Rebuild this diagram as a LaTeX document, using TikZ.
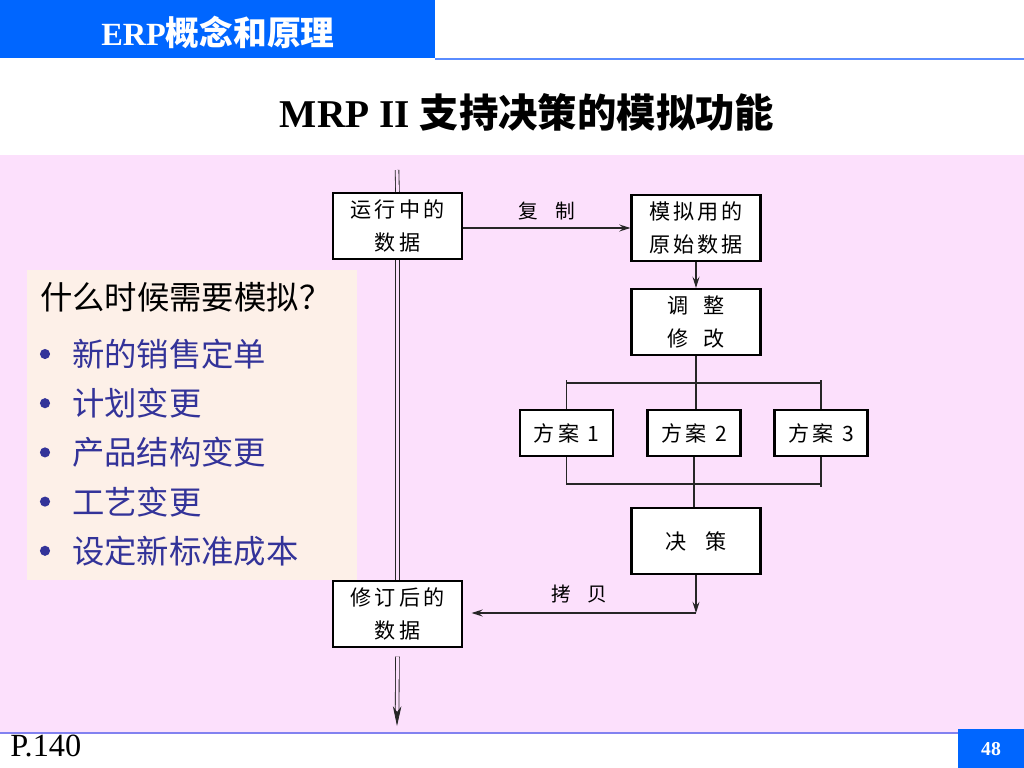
\documentclass[tikz,border=0pt]{standalone}
\usepackage{fontspec}
\setmainfont{Liberation Serif}
\newfontfamily\cjk{Noto Sans CJK SC}
\newfontfamily\boxcjk[LetterSpace=15]{Noto Sans CJK SC}
\usetikzlibrary{arrows.meta}
\definecolor{headblue}{RGB}{0,102,255}
\definecolor{lineblue}{RGB}{90,140,255}
\definecolor{footline}{RGB}{130,130,240}
\definecolor{pinkbg}{RGB}{252,224,252}
\definecolor{peach}{RGB}{253,240,232}
\definecolor{itemblue}{RGB}{51,51,153}
\tikzstyle{databox} = [rectangle, draw=black, line width=1.5pt, fill=white, minimum width=3.225cm, minimum height=1.65cm, align=center, inner sep=0pt, font=\boxcjk\fontsize{15}{23}\selectfont]
\tikzstyle{planbox} = [databox, minimum width=2.325cm, minimum height=1.15cm]
\tikzstyle{wire} = [draw=black!85, line width=0.8pt]
\tikzstyle{flow} = [draw=black!85, line width=0.6pt, double=pinkbg, double distance=2pt]
\tikzstyle{tip} = [-{Stealth[length=8pt,width=5pt,inset=3pt]}]

\begin{document}
\begin{tikzpicture}[x=0.025cm, y=-0.025cm]
            \useasboundingbox (0,0) rectangle (1024,768);

            % header and title
            \fill[headblue] (0,0) rectangle (435,58);
            \draw[lineblue, line width=1.5pt] (435,59) -- (1024,59);
            \node (Head) [text=white, font=\fontsize{23}{23}\selectfont\bfseries] at (218,32) {ERP{\cjk\fontsize{24}{24}\selectfont 概念和原理}};
            \node (Title) [font=\fontsize{28}{28}\selectfont\bfseries] at (527,112) {MRP II {\cjk 支持决策的模拟功能}};

            % slide body
            \fill[pinkbg] (0,155) rectangle (1024,733);
            \draw[footline, line width=1.5pt] (0,733) -- (958,733);
            \fill[headblue] (958,729) rectangle (1024,768);
            \node (Num) [text=white, font=\fontsize{14}{14}\selectfont\bfseries] at (991,749) {48};
            \node (Page) [anchor=west, inner sep=0pt, font=\fontsize{23}{23}\selectfont] at (10,746) {P.140};

            % when to simulate
            \fill[peach] (27,270) rectangle (357,580);
            \node (Ask) [anchor=west, inner sep=0pt, font=\cjk\fontsize{23}{23}\selectfont] at (40,297) {什么时候需要模拟？};
            \foreach \t [count=\i from 0] in {新的销售定单,计划变更,产品结构变更,工艺变更,设定新标准成本}
            {
                \fill[itemblue] (45,354+49.2*\i) circle (3.6pt);
                \node (Item\i) [anchor=west, inner sep=0pt, text=itemblue, font=\cjk\fontsize{23}{23}\selectfont] at (72,354+49.2*\i) {\t};
            }

            % data flow
            \node (Run) [databox] at (397.5,226) {运行中的\\数据};
            \node (Sim) [databox] at (696,228) {模拟用的\\原始数据};
            \node (Adj) [databox] at (696,322) {调\hspace{10pt}整\\修\hspace{10pt}改};
            \node (Dec) [databox] at (696,541) {决\hspace{14pt}策};
            \node (Rev) [databox] at (397.5,614) {修订后的\\数据};
            \foreach \x [count=\i] in {566.5,694,821}
            {
                \node (A\i) [planbox] at (\x,433) {方案\hspace{6pt}\i};
            }

            \coordinate (Top) at (397,170);
            \coordinate (End) at (397,726);
            \draw[flow] (Top) -- (Run.north);
            \draw[flow] (Run.south) -- (Rev.north);
            \draw[flow, -{Stealth[length=14pt,width=6pt,inset=4pt]}] ([yshift=-6pt]Rev.south) -- (End);

            \draw[wire, tip] (Run.east |- 0,228) -- node[anchor=south, font=\cjk\fontsize{14}{14}\selectfont, yshift=2pt]{复\hspace{12pt}制} (Sim.west |- 0,228);
            \draw[wire, tip] (Sim.south) -- (Adj.north);
            \draw[wire] (Adj.south) -- (Adj.south |- A2.north);
            \draw[wire] (A1.north) -- (A1.north |- 0,380) -- ++(0,3) -- (A3.north |- 0,383) -- ++(0,-3) -- (A3.north);
            \draw[wire] (A2.south) -- (A2.south |- Dec.north);
            \draw[wire] (A1.south) -- (A1.south |- 0,484) -- (A3.south |- 0,484) -- ++(0,3);
            \draw[wire] (A3.south) -- (A3.south |- 0,484);

            \coordinate (Turn) at (696,613);
            \draw[wire, tip] (Dec.south) -- (Turn);
            \draw[wire, tip, shorten >=6pt] (Turn) -- node[anchor=south, font=\cjk\fontsize{14}{14}\selectfont, yshift=3pt]{拷\hspace{12pt}贝} (Rev.east |- Turn);
        \end{tikzpicture}
\end{document}
